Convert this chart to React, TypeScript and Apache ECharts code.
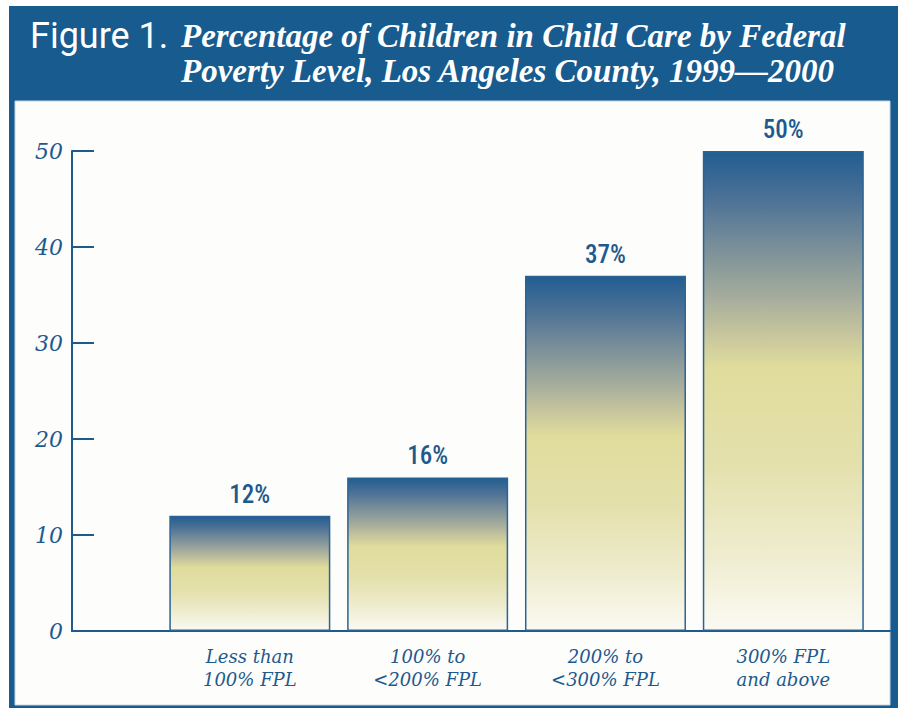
import React, { useEffect, useRef } from "react";
import * as echarts from "echarts";

const categories = ["Less than\n100% FPL", "100% to\n<200% FPL", "200% to\n<300% FPL", "300% FPL\nand above"];
const percentages = [12, 16, 37, 50];
const yTicks = [0, 10, 20, 30, 40, 50];

const BLUE = "#175b8f";
const TEXT_BLUE = "#1d5a8e";

export default function App() {
  const ref = useRef<HTMLDivElement>(null);
  useEffect(() => {
    if (!ref.current) return;
    const chart = echarts.init(ref.current, null, { renderer: "svg" });
    const barGradient = new echarts.graphic.LinearGradient(0, 0, 0, 1, [
      { offset: 0, color: "#225d91" },
      { offset: 0.1, color: "#4d7296" },
      { offset: 0.2, color: "#7a8f99" },
      { offset: 0.3, color: "#a3ab9c" },
      { offset: 0.38, color: "#c6c59d" },
      { offset: 0.45, color: "#e0dc9c" },
      { offset: 0.65, color: "#e4e0ac" },
      { offset: 0.85, color: "#efedd0" },
      { offset: 1, color: "#fbfaf3" },
    ]);
    chart.setOption({
      animation: false,
      backgroundColor: "#ffffff",
      graphic: [
        { type: "rect", z: -10, silent: true, shape: { x: 9, y: 6, width: 889, height: 702 }, style: { fill: BLUE } },
        { type: "rect", z: -9, silent: true, shape: { x: 15, y: 101, width: 875, height: 604 }, style: { fill: "#fdfdfc", stroke: "#c9d6e3", lineWidth: 1 } },
        {
          type: "text", z: 10, x: 30, y: 36,
          style: { text: "Figure 1.", fill: "#ffffff", font: "normal 36px Roboto, 'Liberation Sans', sans-serif", verticalAlign: "middle", align: "left" },
        },
        {
          type: "text", z: 10, x: 181, y: 36,
          style: { text: "Percentage of Children in Child Care by Federal", fill: "#ffffff", font: "italic bold 33px 'Liberation Serif', serif", verticalAlign: "middle", align: "left" },
        },
        {
          type: "text", z: 10, x: 181, y: 71,
          style: { text: "Poverty Level, Los Angeles County, 1999\u20142000", fill: "#ffffff", font: "italic bold 33px 'Liberation Serif', serif", verticalAlign: "middle", align: "left" },
        },
      ],
      grid: { left: 72, right: 8, top: 151, bottom: 77, containLabel: false },
      xAxis: {
        type: "value",
        min: 0,
        max: 4.6,
        interval: 1,
        splitLine: { show: false },
        axisTick: { show: false },
        axisLine: { show: true, lineStyle: { color: TEXT_BLUE, width: 2 } },
        axisLabel: {
          showMaxLabel: false,
          showMinLabel: true,
          margin: 14,
          color: TEXT_BLUE,
          fontFamily: "'DejaVu Serif', serif",
          fontStyle: "italic",
          fontSize: 18,
          lineHeight: 23,
          formatter: (v: number) => {
            const i = Math.round(v) - 1;
            return i >= 0 && i < categories.length ? categories[i] : "";
          },
        },
      },
      yAxis: {
        type: "value",
        min: yTicks[0],
        max: yTicks[yTicks.length - 1],
        interval: 10,
        splitLine: { show: false },
        axisLine: { show: true, lineStyle: { color: TEXT_BLUE, width: 2 } },
        axisTick: { show: true, inside: true, length: 22, lineStyle: { color: TEXT_BLUE, width: 2 } },
        axisLabel: {
          margin: 9,
          color: TEXT_BLUE,
          fontFamily: "'DejaVu Serif', serif",
          fontStyle: "italic",
          fontSize: 22,
          padding: [0, 0, 10, 0],
        },
      },
      series: [
        {
          type: "bar",
          barWidth: 161,
          data: percentages.map((v, i) => [i + 1, v]),
          itemStyle: { color: barGradient, borderColor: "#2a6496", borderWidth: 1.5 },
          label: {
            show: true,
            position: "top",
            distance: 9,
            color: TEXT_BLUE,
            fontFamily: "'Liberation Sans Narrow', 'Roboto Condensed', Roboto, sans-serif",
            fontWeight: 500,
            fontSize: 25,
            formatter: (p: any) => p.value[1] + "%",
          },
        },
      ],
    });
    return () => chart.dispose();
  }, []);
  return <div ref={ref} style={{ position: "absolute", left: 0, top: 0, width: 898, height: 708 }} />;
}
